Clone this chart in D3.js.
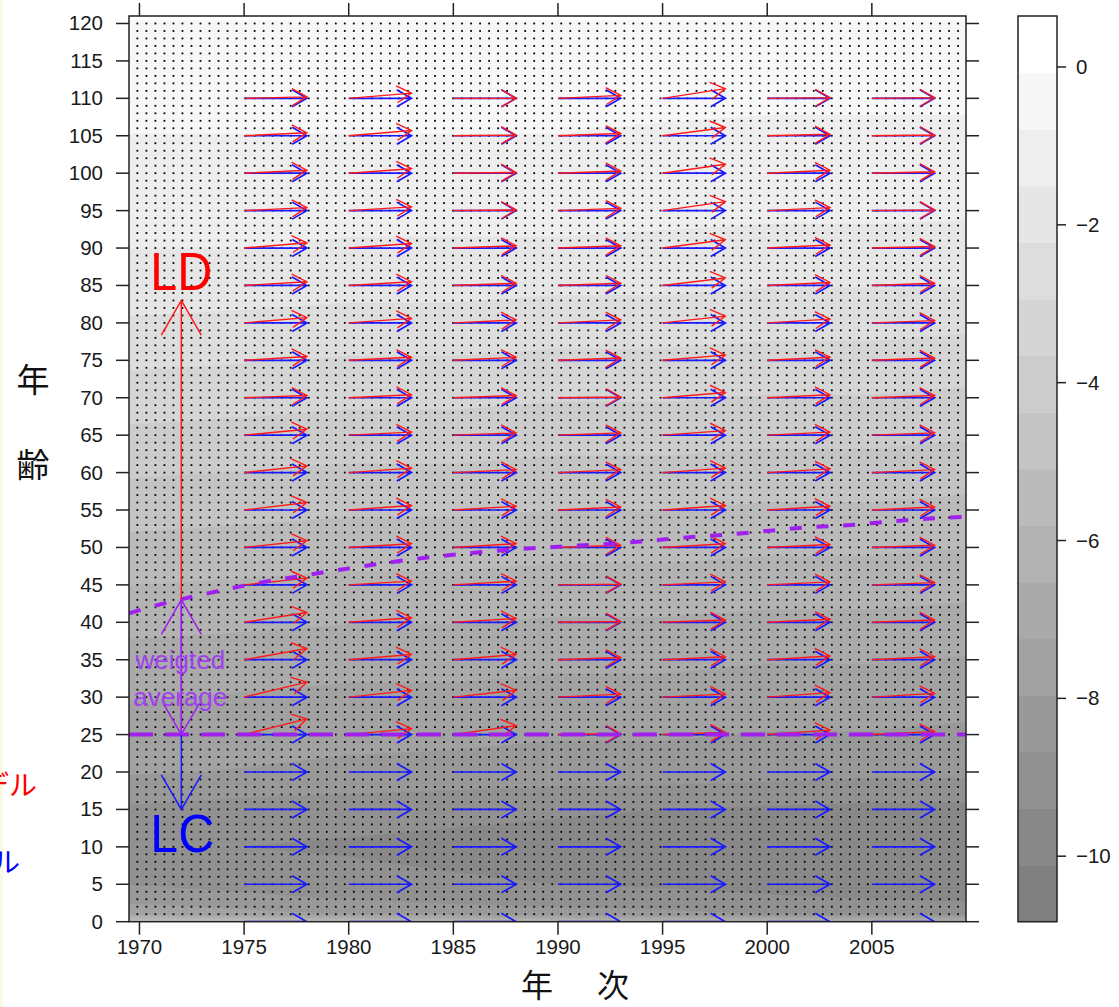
<!DOCTYPE html>
<html><head><meta charset="utf-8">
<script src="https://cdn.jsdelivr.net/npm/d3@7"></script>
<style>
body{margin:0;background:#fff}
svg{display:block}
text{font-family:"Liberation Sans",Arial,sans-serif}
.cjk{font-family:"Noto Sans CJK JP","Noto Sans CJK SC",sans-serif}
</style>
</head><body>
<svg id="chart" width="1119" height="1007"></svg>
<script>
// ---------------- data ----------------
const yearTicks = [1970, 1975, 1980, 1985, 1990, 1995, 2000, 2005];
const ageTicks = [0,5,10,15,20,25,30,35,40,45,50,55,60,65,70,75,80,85,90,95,100,105,110,115,120];
const colorbarTicks = [0, -2, -4, -6, -8, -10];
const colorbarTickLabels = ["0", "\u22122", "\u22124", "\u22126", "\u22128", "\u221210"];
const zMin = -10.83, zMax = 0.646, nLevels = 16;

// log mortality surface (rows = ages, columns = years)
const gridYears = [1969.5, 1975, 1980, 1985, 1990, 1995, 2000, 2005, 2009.5];
const gridAges = [0,1,3,5,10,15,20,25,30,35,40,45,50,55,60,65,70,75,80,85,90,95,100,105,110,115,120,121];
const logRates = [
  [-4.9,-5.2,-5.5,-5.7,-5.9,-6.0,-6.2,-6.3,-6.4],
  [-7.4,-7.7,-8.0,-8.2,-8.4,-8.5,-8.7,-8.8,-8.9],
  [-8.2,-8.5,-8.7,-8.9,-9.0,-9.1,-9.3,-9.4,-9.5],
  [-8.7,-8.9,-9.1,-9.3,-9.4,-9.5,-9.6,-9.7,-9.8],
  [-9.2,-9.4,-9.5,-9.6,-9.7,-9.8,-9.9,-10.0,-10.1],
  [-8.8,-9.0,-9.1,-9.2,-9.3,-9.4,-9.5,-9.6,-9.6],
  [-7.9,-8.0,-8.1,-8.2,-8.3,-8.3,-8.4,-8.5,-8.5],
  [-7.6,-7.7,-7.8,-7.8,-7.9,-7.9,-8.0,-8.0,-8.1],
  [-7.2,-7.3,-7.4,-7.4,-7.5,-7.5,-7.6,-7.6,-7.7],
  [-6.8,-6.9,-7.0,-7.0,-7.1,-7.1,-7.2,-7.2,-7.3],
  [-6.3,-6.4,-6.5,-6.5,-6.6,-6.6,-6.7,-6.7,-6.8],
  [-5.8,-5.9,-6.0,-6.0,-6.1,-6.1,-6.2,-6.2,-6.3],
  [-5.3,-5.4,-5.5,-5.5,-5.6,-5.6,-5.7,-5.7,-5.8],
  [-4.8,-4.9,-5.0,-5.0,-5.1,-5.1,-5.2,-5.2,-5.3],
  [-4.3,-4.4,-4.5,-4.5,-4.6,-4.6,-4.7,-4.7,-4.8],
  [-3.8,-3.9,-4.0,-4.0,-4.1,-4.1,-4.2,-4.2,-4.3],
  [-3.3,-3.4,-3.5,-3.5,-3.6,-3.6,-3.7,-3.7,-3.8],
  [-2.8,-2.9,-3.0,-3.0,-3.1,-3.1,-3.2,-3.2,-3.3],
  [-2.3,-2.4,-2.5,-2.5,-2.6,-2.6,-2.7,-2.7,-2.8],
  [-1.9,-1.9,-2.0,-2.0,-2.1,-2.1,-2.2,-2.2,-2.2],
  [-1.5,-1.5,-1.6,-1.6,-1.6,-1.7,-1.7,-1.7,-1.8],
  [-1.2,-1.2,-1.3,-1.3,-1.3,-1.3,-1.4,-1.4,-1.4],
  [-1.0,-1.0,-1.1,-1.1,-1.1,-1.1,-1.2,-1.2,-1.2],
  [-0.8,-0.8,-0.8,-0.8,-0.8,-0.9,-0.9,-0.9,-0.9],
  [-0.6,-0.6,-0.6,-0.6,-0.6,-0.6,-0.7,-0.7,-0.7],
  [-0.5,-0.5,-0.5,-0.5,-0.5,-0.5,-0.5,-0.5,-0.5],
  [-0.4,-0.4,-0.4,-0.4,-0.4,-0.4,-0.4,-0.4,-0.4],
  [0.3,0.3,0.3,0.3,0.3,0.3,0.3,0.3,0.3]
];

// arrows (LC model = blue, LD model = red)
const arrowYears = [1975, 1980, 1985, 1990, 1995, 2000, 2005];
const arrowSpan = 3;
const blueAges = [0,5,10,15,20,25,30,35,40,45,50,55,60,65,70,75,80,85,90,95,100,105,110];
const redAges = [25,30,35,40,45,50,55,60,65,70,75,80,85,90,95,100,105,110];
const redRise1975 = [2.1,2.0,1.5,1.3,0.9,0.9,1.0,0.9,0.8,0.3,0.5,0.7,0.5,0.7,0.4,0.4,0.4,0.2];
const redRise1980 = [0.8,0.9,0.7,0.6,0.5,0.5,0.6,0.6,0.4,0.4,0.4,0.6,0.5,0.6,0.5,0.6,0.7,0.7];
const redRise1985 = [1.2,0.9,0.7,0.5,0.5,0.5,0.5,0.4,0.3,0.3,0.4,0.4,0.3,0.3,0.1,0.1,0.1,0.0];
const redRise1990 = [0.1,0.4,0.3,0.1,0.1,0.3,0.4,0.4,0.3,0.1,0.3,0.4,0.3,0.3,0.3,0.3,0.3,0.4];
const redRise1995 = [0.3,0.4,0.4,0.3,0.4,0.5,0.6,0.6,0.6,0.7,0.7,0.9,1.0,1.1,1.2,1.2,1.1,1.3];
const redRise2000 = [0.6,0.6,0.5,0.4,0.4,0.4,0.5,0.5,0.4,0.4,0.4,0.5,0.4,0.4,0.4,0.4,0.2,0.1];
const redRise2005 = [0.4,0.5,0.4,0.3,0.3,0.3,0.4,0.4,0.3,0.3,0.3,0.3,0.3,0.2,0.1,0.2,0.1,0.1];
const redRises = [redRise1975, redRise1980, redRise1985, redRise1990, redRise1995, redRise2000, redRise2005];

// weighted average age curve and boundary age
const wavgYears = [1969.5,1971,1973,1975,1977.5,1980,1983,1986,1990,1992,1994,1996,1998,2000,2002,2004,2006,2008,2009.5];
const wavgAges  = [41.2,42.4,43.7,44.9,46.1,47.2,48.4,49.3,50.1,50.4,50.8,51.3,51.7,52.2,52.7,53.0,53.5,53.9,54.1];
const boundaryAge = 25;

// annotation (schematic at 1972)
const annYear = 1972;
const ldFrom = 43, ldTo = 83;
const lcFrom = 25, lcTo = 15;
const wFrom = 25, wTo = 43;

// ---------------- layout ----------------
const svg = d3.select("#chart");
const P = {left: 129, right: 966, top: 16, bottom: 921.7};
const x = d3.scaleLinear().domain([1969.5, 2009.5]).range([P.left, P.right]);
const y = d3.scaleLinear().domain([0, 121]).range([P.bottom, P.top]);

const step = (zMax - zMin) / nLevels;
const levels = d3.range(nLevels).map(k => zMin + k * step);
const grayOf = k => { const g = Math.round(128 + k * 127 / (nLevels - 1)); return d3.rgb(g, g, g).toString(); };

// left edge tint
svg.append("rect").attr("x", 0).attr("y", 0).attr("width", 3).attr("height", 1007).attr("fill", "#fcf9e2");

svg.append("clipPath").attr("id", "plotclip").append("rect")
  .attr("x", P.left).attr("y", P.top).attr("width", P.right - P.left).attr("height", P.bottom - P.top);

const plot = svg.append("g").attr("clip-path", "url(#plotclip)");

// filled contours
const nx = gridYears.length, ny = gridAges.length;
const flat = [];
for (let j = 0; j < ny; j++) for (let i = 0; i < nx; i++) flat.push(logRates[j][i]);
const gx = d3.scaleLinear().domain(d3.range(nx).map(i => i + 0.5)).range(gridYears).clamp(true);
const gy = d3.scaleLinear().domain(d3.range(ny).map(j => j + 0.5)).range(gridAges).clamp(true);
const contours = d3.contours().size([nx, ny]).thresholds(levels)(flat);
const proj = d3.geoTransform({ point: function(px, py) {
  this.stream.point(x(gx(px)), y(gy(py)));
}});
const cpath = d3.geoPath(proj);
plot.append("rect").attr("x", P.left).attr("y", P.top).attr("width", P.right - P.left)
  .attr("height", P.bottom - P.top).attr("fill", grayOf(0));
plot.selectAll("path.band").data(contours).join("path").attr("class", "band")
  .attr("d", cpath).attr("fill", (d, i) => grayOf(i)).attr("stroke", (d, i) => grayOf(i)).attr("stroke-width", 0.5);

// stipple texture
const dotCols = d3.range(1969.9, 2009.4, 0.431);
const dotRows = d3.range(1, 121, 1);
const dots = plot.append("g").attr("fill", "#000");
dotRows.forEach(a => dotCols.forEach(t => {
  dots.append("rect").attr("x", x(t) - 0.9).attr("y", y(a) - 0.9).attr("width", 1.8).attr("height", 1.8);
}));

// arrow helper
function arrowPath(x0, y0, x1, y1, L, deg) {
  const a = Math.atan2(y1 - y0, x1 - x0), t = deg * Math.PI / 180;
  const b1 = [x1 - L * Math.cos(a - t), y1 - L * Math.sin(a - t)];
  const b2 = [x1 - L * Math.cos(a + t), y1 - L * Math.sin(a + t)];
  return `M${x0},${y0}L${x1},${y1}M${b1[0]},${b1[1]}L${x1},${y1}L${b2[0]},${b2[1]}`;
}

// blue arrows
const blueG = plot.append("g").attr("fill", "none").attr("stroke", "#1a1aff").attr("stroke-width", 1.7);
arrowYears.forEach(yr => blueAges.forEach(a => {
  blueG.append("path").attr("d", arrowPath(x(yr), y(a), x(yr + arrowSpan), y(a), 17, 30));
}));
// red arrows
const redG = plot.append("g").attr("fill", "none").attr("stroke", "#ff1a1a").attr("stroke-width", 1.4);
arrowYears.forEach((yr, k) => redAges.forEach((a, m) => {
  redG.append("path").attr("d", arrowPath(x(yr), y(a), x(yr + arrowSpan), y(a + redRises[k][m]), 17, 30));
}));

// boundary line and weighted average curve
plot.append("line").attr("x1", P.left).attr("x2", P.right).attr("y1", y(boundaryAge)).attr("y2", y(boundaryAge))
  .attr("stroke", "#a020f0").attr("stroke-width", 4).attr("stroke-dasharray", "24,12");
plot.append("path").datum(wavgYears.map((t, i) => [t, wavgAges[i]]))
  .attr("d", d3.line().x(d => x(d[0])).y(d => y(d[1])).curve(d3.curveMonotoneX))
  .attr("fill", "none").attr("stroke", "#a020f0").attr("stroke-width", 4).attr("stroke-dasharray", "12,14.7");

// annotation arrows
const ax = x(annYear);
plot.append("path").attr("d", arrowPath(ax, y(ldFrom), ax, y(ldTo), 40, 30))
  .attr("fill", "none").attr("stroke", "#ff1a1a").attr("stroke-width", 1.5);
plot.append("path").attr("d", arrowPath(ax, y(lcFrom), ax, y(lcTo), 40, 30))
  .attr("fill", "none").attr("stroke", "#1a1aff").attr("stroke-width", 1.5);
plot.append("path").attr("d", arrowPath(ax, y(wFrom), ax, y(wTo), 40, 30))
  .attr("fill", "none").attr("stroke", "#a020f0").attr("stroke-width", 1.5);
plot.append("path").attr("d", arrowPath(ax, y(wTo), ax, y(wFrom), 36, 30))
  .attr("fill", "none").attr("stroke", "#a020f0").attr("stroke-width", 1.5);

plot.append("text").attr("x", ax).attr("y", 290).attr("text-anchor", "middle")
  .attr("font-size", 54).attr("fill", "#ff0000").attr("textLength", 62).attr("lengthAdjust", "spacingAndGlyphs").text("LD");
plot.append("text").attr("x", ax + 1).attr("y", 852).attr("text-anchor", "middle")
  .attr("font-size", 54).attr("fill", "#0000ff").attr("textLength", 64).attr("lengthAdjust", "spacingAndGlyphs").text("LC");
plot.append("text").attr("x", ax - 1).attr("y", 669).attr("text-anchor", "middle")
  .attr("font-size", 26).attr("fill", "#a040f0").text("weigted");
plot.append("text").attr("x", ax - 1).attr("y", 706).attr("text-anchor", "middle")
  .attr("font-size", 26).attr("fill", "#a040f0").text("average");

// frame
svg.append("rect").attr("x", P.left).attr("y", P.top).attr("width", P.right - P.left).attr("height", P.bottom - P.top)
  .attr("fill", "none").attr("stroke", "#222").attr("stroke-width", 1.5);

// axes
const TL = 13;
const ax1 = svg.append("g").attr("stroke", "#222").attr("stroke-width", 1.5);
yearTicks.forEach(t => {
  ax1.append("line").attr("x1", x(t)).attr("x2", x(t)).attr("y1", P.bottom).attr("y2", P.bottom + TL);
  ax1.append("line").attr("x1", x(t)).attr("x2", x(t)).attr("y1", P.top).attr("y2", P.top - TL);
});
ageTicks.forEach(a => {
  ax1.append("line").attr("x1", P.left).attr("x2", P.left - TL).attr("y1", y(a)).attr("y2", y(a));
  ax1.append("line").attr("x1", P.right).attr("x2", P.right + TL).attr("y1", y(a)).attr("y2", y(a));
});
svg.append("g").selectAll("text").data(yearTicks).join("text")
  .attr("x", d => x(d)).attr("y", 954).attr("text-anchor", "middle").attr("font-size", 20.5).attr("fill", "#1a1a1a").text(d => d);
svg.append("g").selectAll("text").data(ageTicks).join("text")
  .attr("x", 103).attr("y", d => y(d) + 7).attr("text-anchor", "end").attr("font-size", 20.5).attr("fill", "#1a1a1a").text(d => d);

// axis titles
svg.append("text").attr("class", "cjk").attr("x", 537).attr("y", 983).attr("dominant-baseline", "central")
  .attr("text-anchor", "middle").attr("font-size", 32).attr("fill", "#111").text("年");
svg.append("text").attr("class", "cjk").attr("x", 613).attr("y", 983).attr("dominant-baseline", "central")
  .attr("text-anchor", "middle").attr("font-size", 32).attr("fill", "#111").text("次");
svg.append("text").attr("class", "cjk").attr("x", 33).attr("y", 378).attr("dominant-baseline", "central")
  .attr("text-anchor", "middle").attr("font-size", 33).attr("fill", "#111").text("年");
svg.append("text").attr("class", "cjk").attr("x", 33).attr("y", 463).attr("dominant-baseline", "central")
  .attr("text-anchor", "middle").attr("font-size", 33).attr("fill", "#111").text("齢");

// legend labels, clipped at the left edge as in the source
svg.append("text").attr("class", "cjk").attr("x", 37).attr("y", 784).attr("dominant-baseline", "central")
  .attr("text-anchor", "end").attr("font-size", 28).attr("fill", "#ff0000").text("LDモデル");
svg.append("text").attr("class", "cjk").attr("x", 20).attr("y", 861).attr("dominant-baseline", "central")
  .attr("text-anchor", "end").attr("font-size", 28).attr("fill", "#0000ff").text("LCモデル");

// colour bar
const cb = {left: 1018, right: 1057};
const cy = d3.scaleLinear().domain([zMin, zMax]).range([P.bottom, P.top]);
svg.append("g").selectAll("rect").data(levels).join("rect")
  .attr("x", cb.left).attr("width", cb.right - cb.left)
  .attr("y", d => cy(d + step)).attr("height", d => cy(d) - cy(d + step) + 0.5)
  .attr("fill", (d, i) => grayOf(i));
svg.append("rect").attr("x", cb.left).attr("y", P.top).attr("width", cb.right - cb.left).attr("height", P.bottom - P.top)
  .attr("fill", "none").attr("stroke", "#222").attr("stroke-width", 1.5);
colorbarTicks.forEach((v, i) => {
  svg.append("line").attr("x1", cb.right).attr("x2", cb.right + 9).attr("y1", cy(v)).attr("y2", cy(v))
    .attr("stroke", "#222").attr("stroke-width", 1.5);
  svg.append("text").attr("x", 1076).attr("y", cy(v) + 7).attr("font-size", 20.5).attr("fill", "#1a1a1a").text(colorbarTickLabels[i]);
});
</script>
</body></html>
